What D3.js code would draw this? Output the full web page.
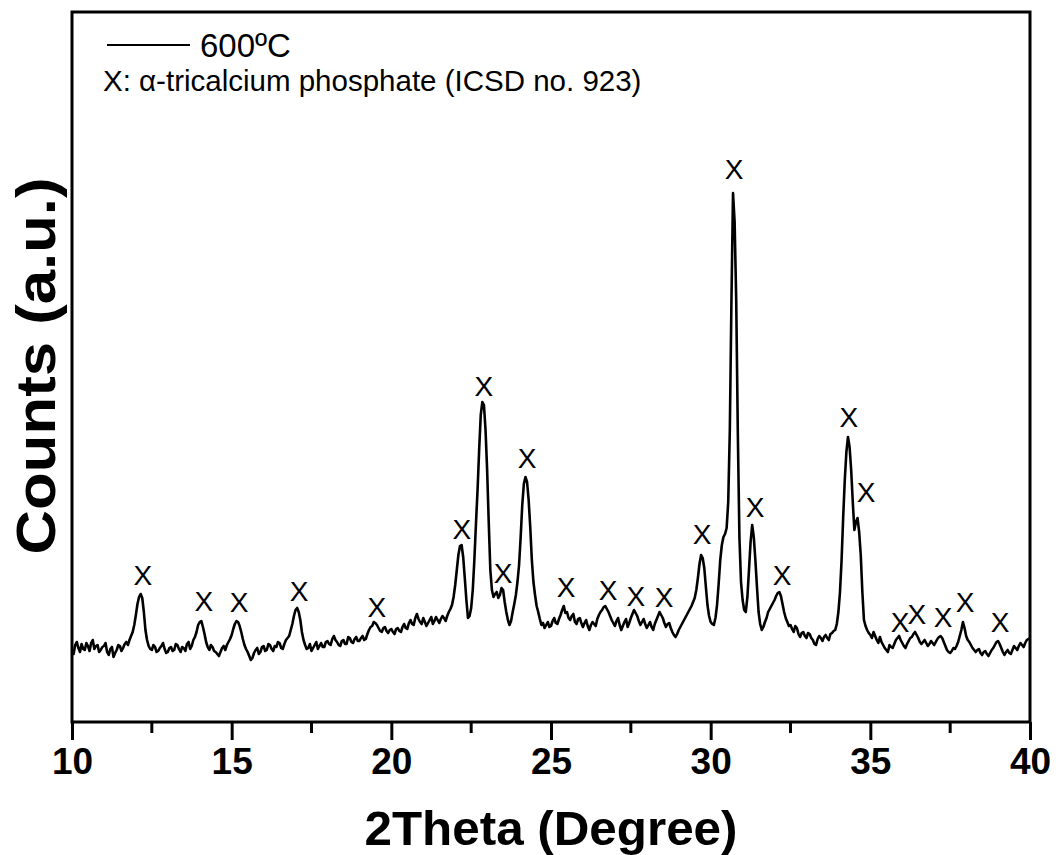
<!DOCTYPE html>
<html>
<head>
<meta charset="utf-8">
<script src="https://cdn.jsdelivr.net/npm/d3@7"></script>
<style>
  html, body { margin: 0; padding: 0; background: #fff; }
  svg { display: block; font-family: "Liberation Sans", Arial, sans-serif; }
</style>
</head>
<body>
<svg id="chart" width="1060" height="855"></svg>
<script>
// XRD pattern, sample calcined at 600 C
const startAngle = 10;
const stepAngle = 0.05;

// counts (a.u.), one per 0.05 deg from 10 to 40 (20 per row)
const counts = [
  72, 68, 77, 80, 74, 70, 78, 73, 72, 79, 76, 71, 79, 82, 73, 76, 77, 70, 72, 75,             // 10
  76, 79, 70, 67, 73, 75, 65, 69, 72, 77, 76, 71, 74, 78, 80, 77, 82, 86, 90, 97,             // 11
  107, 118, 125, 128, 124, 110, 92, 82, 76, 73, 72, 77, 75, 70, 71, 74, 76, 79, 73, 69,       // 12
  70, 74, 75, 71, 72, 78, 77, 73, 70, 75, 74, 71, 78, 80, 73, 76, 82, 85, 90, 97,             // 13
  100, 101, 95, 88, 80, 75, 72, 77, 75, 71, 70, 68, 66, 70, 74, 76, 72, 77, 80, 83,           // 14
  87, 93, 98, 101, 100, 96, 90, 83, 77, 73, 70, 66, 62, 64, 69, 72, 74, 68, 70, 75,           // 15
  76, 71, 72, 78, 77, 73, 71, 76, 75, 80, 79, 74, 73, 78, 82, 84, 86, 92, 98, 106,            // 16
  112, 114, 110, 102, 90, 82, 77, 73, 74, 78, 71, 74, 77, 80, 73, 76, 79, 75, 75, 80,         // 17
  81, 78, 77, 83, 86, 82, 80, 77, 76, 81, 82, 78, 78, 85, 84, 80, 79, 83, 85, 81,             // 18
  81, 84, 86, 82, 83, 88, 92, 95, 96, 100, 99, 97, 94, 91, 90, 94, 95, 91, 89, 92,            // 19
  93, 90, 88, 93, 94, 91, 90, 95, 98, 94, 93, 99, 102, 98, 97, 104, 108, 103, 100, 98,        // 20
  104, 100, 96, 99, 102, 105, 98, 101, 105, 102, 99, 103, 106, 104, 101, 106, 110, 113, 117, 125, // 21
  137, 152, 167, 176, 177, 165, 144, 122, 104, 106, 114, 132, 162, 198, 232, 272, 307, 320, 317, 292, // 22
  252, 200, 152, 132, 125, 128, 130, 124, 127, 134, 132, 120, 110, 102, 97, 101, 110, 118, 127, 140,  // 23
  157, 185, 217, 238, 245, 240, 222, 195, 162, 140, 127, 116, 110, 103, 97, 99, 94, 97, 100, 95,      // 24
  96, 101, 104, 99, 98, 103, 107, 112, 116, 109, 110, 104, 102, 106, 108, 100, 98, 103, 104, 99,      // 25
  95, 99, 102, 96, 92, 97, 100, 98, 96, 103, 107, 110, 112, 115, 116, 113, 110, 106, 102, 99,         // 26
  96, 101, 104, 97, 92, 96, 100, 103, 95, 99, 104, 108, 112, 109, 106, 101, 97, 100, 103, 98,         // 27
  94, 97, 100, 95, 92, 98, 102, 106, 110, 107, 104, 99, 95, 98, 99, 94, 90, 87, 85, 88,               // 28
  92, 95, 98, 101, 104, 107, 110, 113, 116, 120, 124, 132, 144, 158, 167, 164, 154, 135, 117, 106,    // 29
  100, 98, 97, 104, 117, 138, 162, 177, 185, 188, 194, 220, 292, 420, 529, 500, 422, 290, 185, 140,   // 30
  122, 112, 110, 125, 152, 180, 197, 185, 162, 135, 110, 98, 92, 95, 100, 104, 110, 113, 116, 119,    // 31
  122, 126, 129, 130, 126, 118, 110, 104, 100, 96, 97, 93, 90, 96, 94, 88, 85, 89, 90, 86,            // 32
  84, 89, 88, 84, 82, 78, 77, 83, 86, 84, 81, 85, 87, 84, 82, 88, 89, 91, 92, 98,                     // 33
  110, 130, 162, 205, 242, 270, 285, 275, 252, 220, 192, 200, 204, 190, 167, 130, 102, 96, 92, 89,    // 34
  87, 84, 90, 86, 82, 79, 85, 80, 77, 74, 72, 70, 77, 75, 74, 78, 82, 84, 86, 82,                     // 35
  79, 76, 74, 78, 81, 84, 85, 88, 90, 87, 84, 80, 78, 80, 82, 79, 76, 78, 81, 79,                     // 36
  77, 80, 83, 85, 86, 84, 80, 76, 72, 70, 69, 71, 74, 73, 76, 80, 86, 92, 100, 94,                    // 37
  86, 82, 80, 77, 74, 72, 70, 72, 73, 69, 67, 70, 71, 68, 66, 69, 72, 74, 77, 80,                     // 38
  81, 78, 74, 70, 67, 70, 72, 69, 68, 72, 76, 74, 72, 76, 79, 77, 75, 79, 82, 83,                     // 39
  84                                                                                                  // 40
];

// reflections marked "X" (alpha-TCP): angle and height of the label
const markAngles = [12.22, 14.13, 15.23, 17.11, 19.55, 22.21, 22.90, 23.50, 24.25, 25.47,
                    26.79, 27.66, 28.54, 29.73, 30.73, 31.39, 32.24, 34.33, 34.87, 35.93,
                    36.46, 37.28, 37.97, 39.06];
const markCounts = [147, 121, 120, 131, 115, 193, 336, 149, 264, 135,
                    132, 126, 125, 188, 553, 215, 147, 305, 230, 100,
                    108, 105, 120, 100];

const xTicks = [10, 15, 20, 25, 30, 35, 40];
const xMinorTicks = [12.5, 17.5, 22.5, 27.5, 32.5, 37.5];

const margin = { top: 12, right: 30, bottom: 133, left: 72 };
const width = 1060, height = 855;

const svg = d3.select("#chart");

const x = d3.scaleLinear()
    .domain([10, 40])
    .range([margin.left, width - margin.right]);

const y = d3.scaleLinear()
    .domain([0, 710])
    .range([height - margin.bottom, margin.top]);

const data = counts.map((c, i) => ({ angle: startAngle + i * stepAngle, count: c }));

// pattern line
const line = d3.line()
    .x(d => x(d.angle))
    .y(d => y(d.count));

svg.append("path")
    .datum(data)
    .attr("fill", "none")
    .attr("stroke", "#000")
    .attr("stroke-width", 2.6)
    .attr("stroke-linejoin", "round")
    .attr("d", line);

// X markers
svg.append("g")
    .selectAll("text")
    .data(markAngles)
    .enter().append("text")
    .attr("x", d => x(d))
    .attr("y", (d, i) => y(markCounts[i]))
    .attr("text-anchor", "middle")
    .attr("dominant-baseline", "central")
    .attr("font-size", 28)
    .text("X");

// frame
svg.append("rect")
    .attr("x", margin.left)
    .attr("y", margin.top)
    .attr("width", width - margin.left - margin.right)
    .attr("height", height - margin.top - margin.bottom)
    .attr("fill", "none")
    .attr("stroke", "#000")
    .attr("stroke-width", 3);

// bottom axis, ticks outward
const xAxis = d3.axisBottom(x)
    .tickValues(xTicks)
    .tickSize(18)
    .tickPadding(8)
    .tickFormat(d3.format("d"));

const axisG = svg.append("g")
    .attr("transform", `translate(0,${height - margin.bottom})`)
    .call(xAxis);
axisG.select(".domain").remove();
axisG.selectAll(".tick line").attr("stroke-width", 3);
axisG.selectAll(".tick text")
    .attr("font-family", "'Liberation Sans', Arial, sans-serif")
    .attr("font-size", 37)
    .attr("font-weight", "bold")
    .attr("fill", "#000");

svg.append("g")
    .attr("transform", `translate(0,${height - margin.bottom})`)
    .selectAll("line")
    .data(xMinorTicks)
    .enter().append("line")
    .attr("x1", d => x(d))
    .attr("x2", d => x(d))
    .attr("y1", 0)
    .attr("y2", 11)
    .attr("stroke", "#000")
    .attr("stroke-width", 3);

// axis titles
svg.append("text")
    .attr("x", 551)
    .attr("y", 845)
    .attr("text-anchor", "middle")
    .attr("font-size", 48)
    .attr("font-weight", "bold")
    .attr("textLength", 373)
    .attr("lengthAdjust", "spacingAndGlyphs")
    .text("2Theta (Degree)");

svg.append("text")
    .attr("transform", "translate(55,366) rotate(-90)")
    .attr("text-anchor", "middle")
    .attr("font-size", 56)
    .attr("font-weight", "bold")
    .attr("textLength", 377)
    .attr("lengthAdjust", "spacingAndGlyphs")
    .text("Counts (a.u.)");

// legend
svg.append("line")
    .attr("x1", 107).attr("x2", 190)
    .attr("y1", 45).attr("y2", 45)
    .attr("stroke", "#000")
    .attr("stroke-width", 2);

svg.append("text")
    .attr("x", 200)
    .attr("y", 57)
    .attr("font-size", 33)
    .text("600ºC");

svg.append("text")
    .attr("x", 103)
    .attr("y", 91)
    .attr("font-size", 29.5)
    .text("X: α-tricalcium phosphate (ICSD no. 923)");
</script>
</body>
</html>
